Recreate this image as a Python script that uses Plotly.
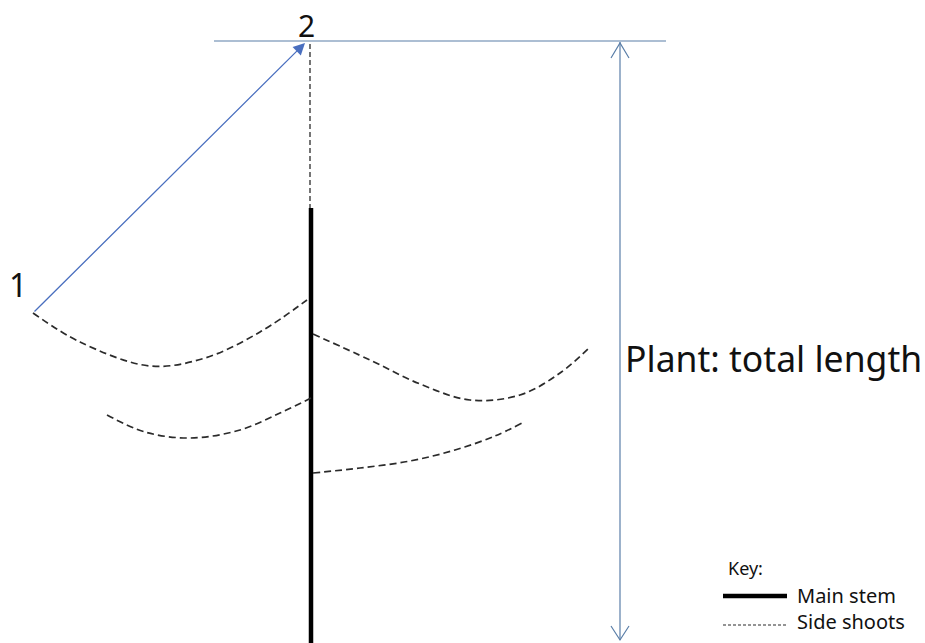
import plotly.graph_objects as go

# Diagram geometry (pixel-space data, y grows downward)
stem_x = [311, 311]
stem_y = [208, 643]
stem_top_dash_x = [310, 310]
stem_top_dash_y = [44, 208]

shoot1_x = [33, 80, 150, 205, 260, 307]
shoot1_y = [313, 342, 366, 358, 332, 300]
shoot2_x = [313, 370, 420, 470, 520, 560, 590]
shoot2_y = [334, 360, 384, 400, 395, 373, 347]
shoot3_x = [107, 145, 190, 240, 280, 313]
shoot3_y = [415, 432, 438, 430, 413, 397]
shoot4_x = [313, 360, 410, 455, 495, 522]
shoot4_y = [473, 468, 461, 450, 436, 423]

top_line_x = [214, 666]
top_line_y = [41, 41]
measure_x = [620, 620]
measure_y = [42, 640]

arrow_start = (33, 313)
arrow_end = (305, 43)

label_1 = "1"
label_2 = "2"
label_total = "Plant: total length"
key_title = "Key:"
key_main = "Main stem"
key_side = "Side shoots"

BLUE = "#5a7ea8"
ARROW = "#4a6fbf"
DASH = "#2b2b2b"
FONT = "Noto Sans"

fig = go.Figure()

def line(x, y, color, width, dash="solid", shape="linear"):
    fig.add_trace(go.Scatter(x=x, y=y, mode="lines",
                             line=dict(color=color, width=width, dash=dash, shape=shape),
                             hoverinfo="skip", showlegend=False))

# reference lines
line(top_line_x, top_line_y, BLUE, 1.2)
line(measure_x, measure_y, BLUE, 1.2)
# chevrons of the measuring arrow
line([611, 620, 629], [58, 43, 58], BLUE, 1.2)
line([611, 620, 629], [626, 640, 626], BLUE, 1.2)

# stem
line(stem_top_dash_x, stem_top_dash_y, DASH, 1.3, dash="5px,3px")
line(stem_x, stem_y, "#000000", 4.5)

# side shoots
for sx, sy in [(shoot1_x, shoot1_y), (shoot2_x, shoot2_y),
               (shoot3_x, shoot3_y), (shoot4_x, shoot4_y)]:
    line(sx, sy, DASH, 1.7, dash="7px,4px", shape="spline")

# key
line([723, 787], [596, 596], "#000000", 4.5)
line([723, 787], [625, 625], DASH, 1.1, dash="3px,2px")

# arrow 1 -> 2
fig.add_annotation(x=arrow_end[0], y=arrow_end[1], ax=arrow_start[0], ay=arrow_start[1],
                   xref="x", yref="y", axref="x", ayref="y", text="",
                   showarrow=True, arrowhead=2, arrowsize=1.8, arrowwidth=1.3,
                   arrowcolor=ARROW)

def text(x, y, s, size, anchor="center"):
    fig.add_annotation(x=x, y=y, xref="x", yref="y", text=s, showarrow=False,
                       xanchor=anchor, yanchor="middle",
                       font=dict(family=FONT, size=size, color="#111111"))

text(306, 25, label_2, 30)
text(18, 284, label_1, 32)
text(623, 358, label_total, 35.5, anchor="left")
text(726, 568, key_title, 18, anchor="left")
text(795, 595, key_main, 20, anchor="left")
text(795, 621, key_side, 20, anchor="left")

fig.update_layout(
    width=925, height=643,
    margin=dict(l=0, r=0, t=0, b=0),
    paper_bgcolor="white", plot_bgcolor="white",
    hovermode=False,
    xaxis=dict(range=[0, 925], visible=False, fixedrange=True),
    yaxis=dict(range=[643, 0], visible=False, fixedrange=True),
)

fig.write_html("out.html",
               config={"displayModeBar": False, "staticPlot": True},
               post_script="document.body.style.margin='0';document.body.style.overflow='hidden';")
